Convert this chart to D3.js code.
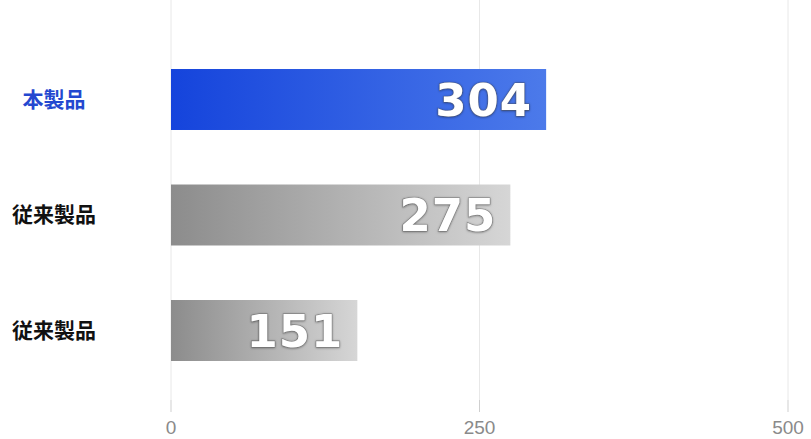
<!DOCTYPE html>
<html><head><meta charset="utf-8">
<script src="https://cdn.jsdelivr.net/npm/d3@7"></script>
<style>body{margin:0;background:#fff}svg{display:block}</style>
</head><body>
<svg id="c" width="811" height="439"></svg>
<script>
const categories = ["本製品", "従来製品", "従来製品 "];
const values = [304, 275, 151];
const tickValues = [0, 250, 500];

const svg = d3.select("#c");
const x = d3.scaleLinear().domain([0, 500]).range([171, 788]);
const y = d3.scaleBand().domain(categories).range([41.75, 388.25]).paddingInner(0.472).paddingOuter(0.236);

const defs = svg.append("defs");
const gb = defs.append("linearGradient").attr("id", "gBlue");
gb.append("stop").attr("offset", "0%").attr("stop-color", "#1544dc");
gb.append("stop").attr("offset", "100%").attr("stop-color", "#4c7aea");
const gg = defs.append("linearGradient").attr("id", "gGray");
gg.append("stop").attr("offset", "0%").attr("stop-color", "#8c8c8c");
gg.append("stop").attr("offset", "100%").attr("stop-color", "#d6d6d6");
const f = defs.append("filter").attr("id", "sh").attr("x", "-10%").attr("y", "-10%").attr("width", "120%").attr("height", "130%");
f.append("feDropShadow").attr("dx", 0).attr("dy", 0.5).attr("stdDeviation", 1).attr("flood-color", "#000").attr("flood-opacity", 0.5);

// grid
svg.append("g").selectAll("line").data(tickValues).join("line")
  .attr("x1", d => x(d)).attr("x2", d => x(d))
  .attr("y1", 0).attr("y2", 400)
  .attr("stroke", "#e8e8e8").attr("stroke-width", 1);
svg.append("g").selectAll("line").data(tickValues).join("line")
  .attr("x1", d => x(d)).attr("x2", d => x(d))
  .attr("y1", 400).attr("y2", 412)
  .attr("stroke", "#cfcfcf").attr("stroke-width", 1);

// axis labels
svg.append("g").selectAll("text").data(tickValues).join("text")
  .attr("x", d => x(d)).attr("y", 434)
  .attr("text-anchor", "middle")
  .attr("font-family", "Liberation Sans, Arial, sans-serif")
  .attr("font-size", 19).attr("fill", "#8a8a8a")
  .text(d => d);

// bars
svg.append("g").selectAll("rect").data(values).join("rect")
  .attr("x", x(0)).attr("y", (d, i) => y(categories[i]))
  .attr("width", d => x(d) - x(0)).attr("height", y.bandwidth())
  .attr("fill", (d, i) => i === 0 ? "url(#gBlue)" : "url(#gGray)");

// values
svg.append("g").selectAll("text").data(values).join("text")
  .attr("x", d => x(d) - 14).attr("y", (d, i) => y(categories[i]) + y.bandwidth() / 2 + 16)
  .attr("text-anchor", "end")
  .attr("font-family", "DejaVu Sans, sans-serif").attr("font-weight", "bold")
  .attr("font-size", 45).attr("letter-spacing", 1).attr("fill", "#fff")
  .attr("stroke", "rgba(80,80,80,0.55)").attr("stroke-width", 1.2)
  .attr("paint-order", "stroke")
  .attr("filter", "url(#sh)")
  .text(d => d);

// categories
svg.append("g").selectAll("text").data(categories).join("text")
  .attr("x", 54).attr("y", (d, i) => y(d) + y.bandwidth() / 2 + 7)
  .attr("text-anchor", "middle")
  .attr("font-family", "Noto Sans CJK JP, sans-serif").attr("font-weight", "bold")
  .attr("font-size", 21).attr("fill", (d, i) => i === 0 ? "#2448d0" : "#111")
  .text(d => d.trim());
</script>
</body></html>
